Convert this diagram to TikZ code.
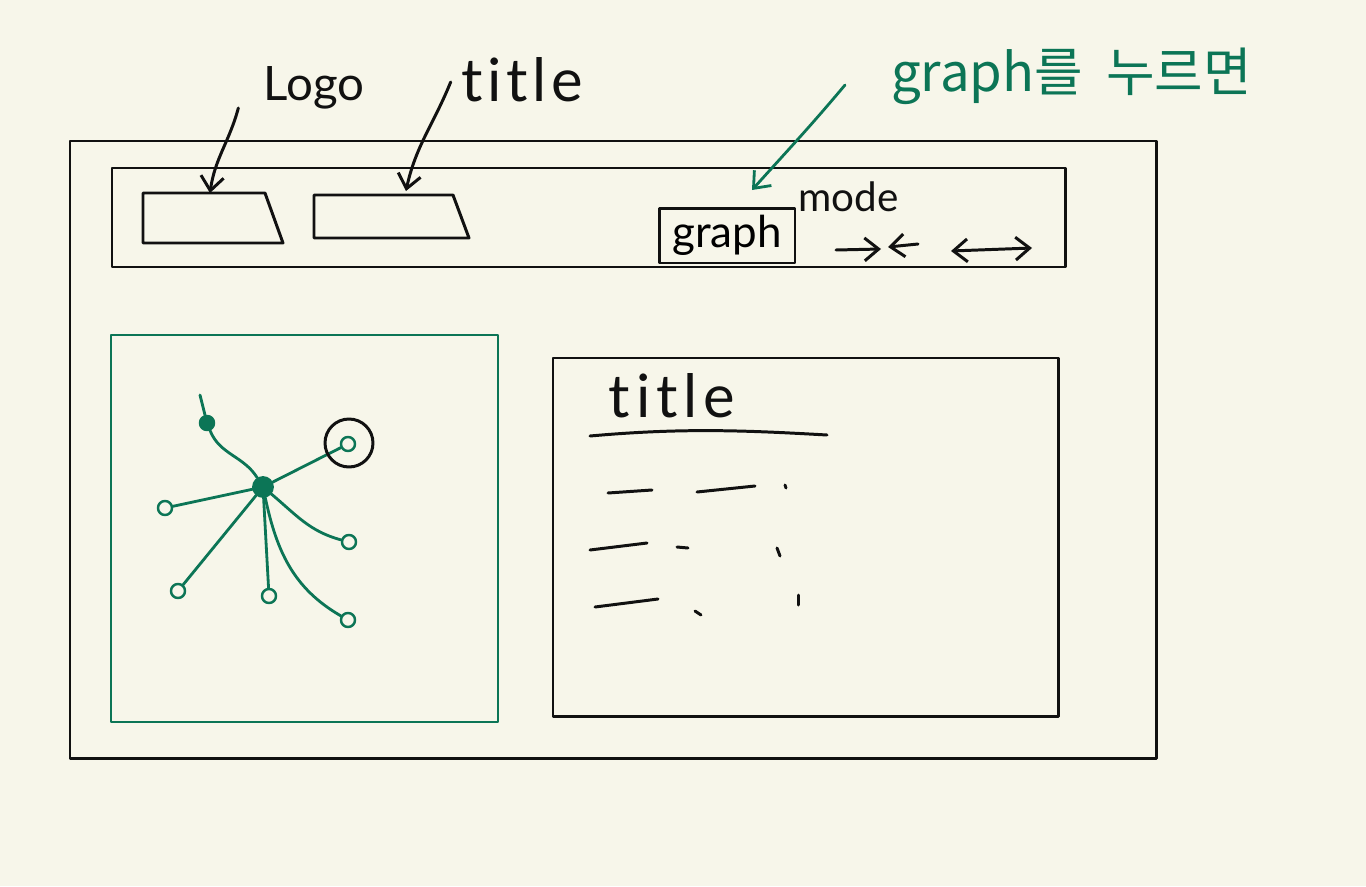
\documentclass[tikz,border=0pt]{standalone}
\usepackage{fontspec}
\setmainfont{Lato}[Ligatures={NoCommon}]
\newfontfamily\krfont{Noto Sans CJK KR}
\usetikzlibrary{arrows.meta, positioning, calc}
\definecolor{paper}{RGB}{247,246,234}
\definecolor{ink}{RGB}{17,17,17}
\definecolor{pen}{RGB}{12,117,86}

\begin{document}
\begin{tikzpicture}[x=0.02cm,y=-0.02cm,line cap=round,line join=round,
  pencil/.style={draw=ink,line width=1.7pt},
  greenpen/.style={draw=pen,line width=1.6pt},
  barb/.style={-{Straight Barb[length=8pt,width=13pt]}},
  label/.style={inner sep=0pt,text=ink},
  vertex/.style={circle,draw=pen,line width=1.4pt,inner sep=0pt,minimum size=8pt}]

  \fill[paper] (0,0) rectangle (1366,886);
  % page frame and header bar
  \draw[pencil] (70,141) rectangle (1156,758);
  \draw[pencil] (112,168) rectangle (1065,267);
  \draw[pencil] (143,193) -- (265,193) -- (283,243) -- (143,243) -- cycle;
  \draw[pencil] (314,195) -- (453,195) -- (469,238) -- (314,238) -- cycle;
  \coordinate (logobox) at (210,193);
  \coordinate (titlebox) at (406,191);

  \node[label,font=\fontsize{27}{30}\selectfont] (logo) at (314,88) {Logo};
  \node[label,font=\fontsize{34}{38}\selectfont\addfontfeatures{LetterSpace=8}] (toptitle) at (522,80) {title};
  \draw[pencil,barb] ($(logo.west)+(-25,20)$) to[out=-105,in=82] (logobox);
  \draw[pencil,barb] ($(toptitle.west)+(-10,2)$) to[out=-112,in=78] (titlebox);

  \node[draw=ink,line width=1.7pt,minimum width=2.72cm,minimum height=1.1cm,
    font=\fontsize{25}{28}\selectfont] (graphbtn) at (727,235.5) {graph};
  \node[label,font=\fontsize{23}{26}\selectfont,anchor=west] (mode) at (798,197) {mode};
  \draw[pencil,barb] (836,250) -- (881,249);
  \draw[pencil,barb] (918,244) -- (888,247);
  \draw[pencil,{Straight Barb[length=8pt,width=13pt]}-{Straight Barb[length=8pt,width=13pt]}] (951,251) -- (1032,248);

  % what happens on click
  \node[text=pen,font=\krfont\fontsize{30}{34}\selectfont,anchor=west] (hint) at (885,76) {graph를\hspace{0.45em}누르면};
  \coordinate (graphtip) at (752,190);
  \draw[greenpen,barb] ($(hint.west)+(-40,9)$) to[out=-130,in=48] (graphtip);

  % graph view
  \draw[greenpen] (111,335) rectangle (498,722);
  \node[vertex,fill=pen,minimum size=11pt] (hub) at (263,487) {};
  \node[vertex] (nA) at (348,444) {};
  \node[vertex] (nB) at (165,508) {};
  \node[vertex] (nC) at (349,542) {};
  \node[vertex] (nD) at (178,591) {};
  \node[vertex] (nE) at (269,596) {};
  \node[vertex] (nF) at (348,620) {};
  \node[vertex,fill=pen] (nG) at (207,423) {};
  \coordinate (tail) at (200,395);
  \draw[greenpen] (hub) to[out=122,in=-68] (nG) -- (tail);
  \draw[greenpen] (hub) -- (nA);
  \draw[greenpen] (hub) -- (nB);
  \draw[greenpen] (hub) to[out=-40,in=165] (nC);
  \draw[greenpen] (hub) -- (nD);
  \draw[greenpen] (hub) -- (nE);
  \draw[greenpen] (hub) to[out=-78,in=150] (nF);
  \node[circle,draw=ink,line width=1.7pt,minimum size=0.96cm] (ring) at (349,443) {};

  % detail view
  \draw[pencil] (553,358) rectangle (1058,716);
  \node[label,font=\fontsize{34}{38}\selectfont\addfontfeatures{LetterSpace=10}] (listtitle) at (672,396) {title};
  \draw[pencil] (590,436) .. controls (680,428) and (740,430) .. (827,435);
  \draw[pencil] (608,493) -- (652,490);
  \draw[pencil] (697,492) -- (755,486);
  \draw[pencil] (785,485) -- (786,488);
  \draw[pencil] (590,550) -- (647,543);
  \draw[pencil] (677,547) -- (688,548);
  \draw[pencil] (777,548) -- (780,556);
  \draw[pencil] (595,607) -- (658,599);
  \draw[pencil] (695,611) -- (701,615);
  \draw[pencil] (798,595) -- (798,605);
\end{tikzpicture}
\end{document}
